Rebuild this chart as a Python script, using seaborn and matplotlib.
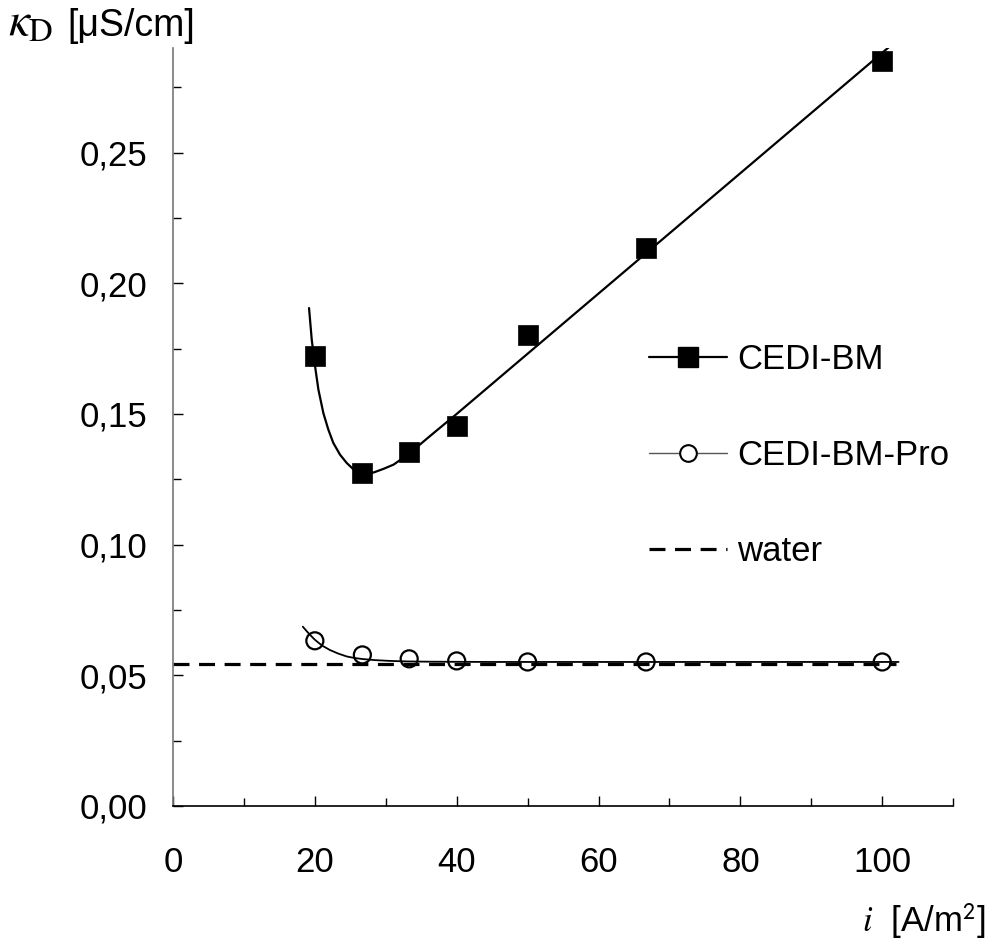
import numpy as np
import pandas as pd
import matplotlib
matplotlib.use("Agg")
import matplotlib.pyplot as plt
from matplotlib.lines import Line2D
from matplotlib.ticker import MultipleLocator, FuncFormatter
import seaborn as sns

# measured points
current = [20, 26.7, 33.3, 40, 50, 66.7, 100]
kappa_bm = [0.172, 0.1275, 0.1355, 0.1455, 0.180, 0.2133, 0.2852]
kappa_pro = [0.0632, 0.0578, 0.0563, 0.0555, 0.0551, 0.0551, 0.0551]

# fit curves
fit_bm_x = [19.18, 19.56, 20.03, 20.5, 21.2, 21.9, 22.6, 23.55, 24.5, 25.4, 26.4, 27.3,
            28.3, 29.7, 31.1, 33.4, 36.0, 40.0, 101.1]
fit_bm_y = [0.1905, 0.1784, 0.1682, 0.1593, 0.1503, 0.1440, 0.1389, 0.1344, 0.1312,
            0.1289, 0.1276, 0.1272, 0.1276, 0.129, 0.1306, 0.135, 0.141, 0.150, 0.2907]
fit_pro_x = [18.3, 19.2, 20.0, 21.0, 22.1, 23.3, 24.5, 25.6, 26.8, 28.5, 30.6, 33.0,
             36.2, 45.0, 102.3]
fit_pro_y = [0.0686, 0.0658, 0.0636, 0.0614, 0.0597, 0.0583, 0.0572, 0.0566, 0.0562,
             0.0558, 0.0555, 0.0553, 0.0552, 0.0551, 0.0551]
water_x = [0, 102]
water_y = [0.0545, 0.0545]

labels = ["CEDI-BM", "CEDI-BM-Pro", "water"]

sns.set_style("white")
plt.rcParams["font.family"] = ["Liberation Sans", "DejaVu Sans"]
plt.rcParams["mathtext.fontset"] = "stix"
plt.rcParams["text.color"] = "black"
plt.rcParams["xtick.color"] = "black"
plt.rcParams["ytick.color"] = "black"

fig = plt.figure(figsize=(9.96, 9.5), dpi=100)
ax = fig.add_axes([0.1737, 0.1516, 0.7833, 0.7979])

water = pd.DataFrame({"x": water_x, "y": water_y})
sns.lineplot(data=water, x="x", y="y", ax=ax, color="black", lw=2.3,
             estimator=None, sort=False)
ax.lines[-1].set_dashes((5, 3))

fit_bm = pd.DataFrame({"x": fit_bm_x, "y": fit_bm_y})
sns.lineplot(data=fit_bm, x="x", y="y", ax=ax, color="black", lw=1.6,
             estimator=None, sort=False)
fit_pro = pd.DataFrame({"x": fit_pro_x, "y": fit_pro_y})
sns.lineplot(data=fit_pro, x="x", y="y", ax=ax, color="black", lw=1.3,
             estimator=None, sort=False)

pts = pd.DataFrame({"x": current, "bm": kappa_bm, "pro": kappa_pro})
sns.scatterplot(data=pts, x="x", y="bm", ax=ax, marker="s", s=210,
                color="black", edgecolor="black", linewidth=0.5, zorder=5)
sns.scatterplot(data=pts, x="x", y="pro", ax=ax, marker="o", s=150,
                facecolor="none", edgecolor="black", linewidth=1.6, zorder=5)

ax.set_xlim(0, 110)
ax.set_ylim(0, 0.29)
ax.set_xlabel("")
ax.set_ylabel("")

ax.xaxis.set_major_locator(MultipleLocator(20))
ax.xaxis.set_minor_locator(MultipleLocator(10))
ax.yaxis.set_major_locator(MultipleLocator(0.05))
ax.yaxis.set_minor_locator(MultipleLocator(0.025))
ax.yaxis.set_major_formatter(FuncFormatter(lambda v, p: f"{v:.2f}".replace(".", ",")))

ax.tick_params(axis="both", which="both", direction="in", labelsize=25,
               width=1, color="black", labelcolor="black")
ax.tick_params(axis="x", which="both", bottom=True, pad=29)
ax.tick_params(axis="y", which="both", left=True, pad=18.5)
ax.tick_params(which="major", length=7)
ax.tick_params(which="minor", length=6)

for side in ["top", "right"]:
    ax.spines[side].set_visible(False)
ax.spines["bottom"].set_color("black")
ax.spines["bottom"].set_linewidth(1.2)
ax.spines["left"].set_color("#777777")
ax.spines["left"].set_linewidth(1.2)

handles = [
    Line2D([], [], color="black", lw=1.6, marker="s", markersize=14),
    Line2D([], [], color="#555555", lw=1.0, marker="o", markersize=12,
           markerfacecolor="white", markeredgecolor="black", markeredgewidth=1.5),
    Line2D([], [], color="black", lw=2.3, dashes=(5, 3)),
]
ax.legend(handles, labels, loc="center left", bbox_to_anchor=(0.61, 0.462),
          frameon=False, fontsize=25, handlelength=2.25, handletextpad=0.29,
          labelspacing=1.82, borderpad=0, borderaxespad=0)

# axis titles
fig.text(8 / 996, 1 - 36 / 950, r"$\kappa_{\mathrm{D}}$", fontsize=34, ha="left", va="baseline")
fig.text(67 / 996, 1 - 36 / 950, "[μS/cm]", fontsize=27, ha="left", va="baseline")
fig.text(0.99, 0.03, r"$i$  [A/m$^{\mathsf{2}}$]", fontsize=25, ha="right", va="center")

fig.savefig("out.png", dpi=100)
